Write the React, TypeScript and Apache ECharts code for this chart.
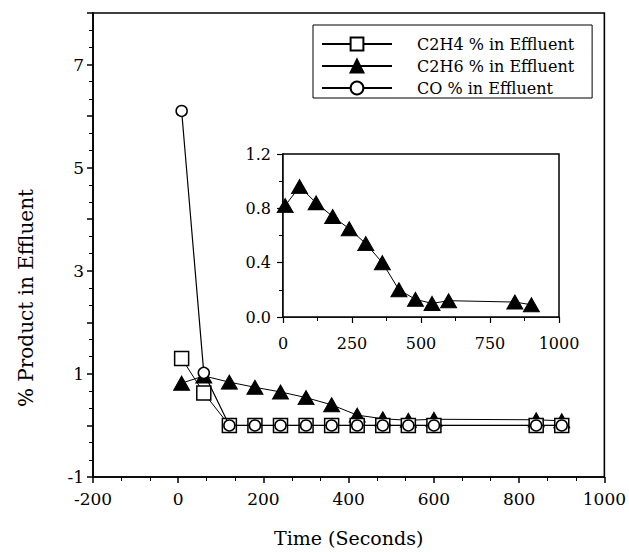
import React, { useEffect, useRef } from "react";
import * as echarts from "echarts";

const times = [8, 60, 120, 180, 240, 300, 360, 420, 480, 540, 600, 840, 900];
const c2h4 = [1.3, 0.63, 0, 0, 0, 0, 0, 0, 0, 0, 0, 0, 0];
const c2h6 = [0.82, 0.96, 0.84, 0.74, 0.65, 0.54, 0.4, 0.2, 0.13, 0.1, 0.12, 0.11, 0.09];
const co = [6.1, 1.02, 0, 0, 0, 0, 0, 0, 0, 0, 0, 0, 0];
const seriesNames = ["C2H4 % in Effluent", "C2H6 % in Effluent", "CO % in Effluent"];
const xTitle = "Time (Seconds)";
const yTitle = "% Product in Effluent";

const FONT = "DejaVu Serif";

function pairs(xs: number[], ys: number[]) {
  return xs.map((x, i) => [x, ys[i]]);
}

export default function App() {
  const ref = useRef<HTMLDivElement>(null);
  useEffect(() => {
    if (!ref.current) return;
    const chart = echarts.init(ref.current, undefined, { renderer: "svg" });
    const axisLine = { show: true, onZero: false, lineStyle: { color: "#000", width: 1.6 } };
    const label = { color: "#000", fontFamily: FONT };
    chart.setOption({
      animation: false,
      backgroundColor: "#fff",
      textStyle: { fontFamily: FONT },
      grid: [
        { left: 93, right: 20, top: 13, bottom: 74, show: true, borderColor: "#000", borderWidth: 1.6, containLabel: false },
        { left: 283, right: 70, top: 154, bottom: 235, show: true, borderColor: "#000", borderWidth: 1.5, backgroundColor: "#fff", containLabel: false, z: 5 },
      ],
      graphic: [
        {
          type: "text",
          x: 26,
          y: 298,
          rotation: Math.PI / 2,
          style: {
            text: yTitle,
            fill: "#000",
            font: `20px "${FONT}"`,
            textAlign: "center",
            textVerticalAlign: "middle",
          },
        },
      ],
      legend: {
        orient: "vertical",
        left: 313,
        top: 25,
        borderColor: "#000",
        borderWidth: 1,
        backgroundColor: "#fff",
        padding: [11, 18, 2, 8],
        itemWidth: 70,
        itemHeight: 16,
        itemGap: 6,
        textStyle: { color: "#000", fontFamily: FONT, fontSize: 16, padding: [0, 0, 0, 20] },
        data: seriesNames,
      },
      xAxis: [
        {
          gridIndex: 0,
          type: "value",
          min: -200,
          max: 1000,
          interval: 200,
          name: xTitle,
          nameLocation: "middle",
          nameGap: 51,
          nameTextStyle: { ...label, fontSize: 19 },
          axisLine,
          splitLine: { show: false },
          axisTick: { show: true, length: 6, lineStyle: { color: "#000", width: 1.5 } },
          minorTick: { show: true, splitNumber: 3, length: 4, lineStyle: { color: "#000", width: 1 } },
          axisLabel: { ...label, fontSize: 17, margin: 13, formatter: (v: number) => String(v) },
        },
        {
          gridIndex: 1,
          type: "value",
          min: 0,
          max: 1000,
          interval: 250,
          axisLine,
          splitLine: { show: false },
          axisTick: { show: true, length: 6, lineStyle: { color: "#000", width: 1.2 } },
          minorTick: { show: true, splitNumber: 2, length: 4, lineStyle: { color: "#000", width: 1 } },
          axisLabel: { ...label, fontSize: 16, margin: 18, formatter: (v: number) => String(v) },
        },
      ],
      yAxis: [
        {
          gridIndex: 0,
          type: "value",
          min: -1,
          max: 8,
          interval: 1,
          axisLine,
          splitLine: { show: false },
          axisTick: { show: true, length: 6, lineStyle: { color: "#000", width: 1.5 } },
          minorTick: { show: true, splitNumber: 3, length: 4, lineStyle: { color: "#000", width: 1 } },
          axisLabel: {
            ...label,
            fontSize: 17,
            margin: 9,
            formatter: (v: number) => {
              const r = Math.round(v);
              return Math.abs(v - r) < 1e-6 && r % 2 !== 0 && r < 8 ? String(r) : "";
            },
          },
        },
        {
          gridIndex: 1,
          type: "value",
          min: 0,
          max: 1.2,
          interval: 0.4,
          axisLine,
          splitLine: { show: false },
          axisTick: { show: true, length: 6, lineStyle: { color: "#000", width: 1.2 } },
          minorTick: { show: true, splitNumber: 2, length: 4, lineStyle: { color: "#000", width: 1 } },
          axisLabel: { ...label, fontSize: 16, margin: 12, formatter: (v: number) => v.toFixed(1) },
        },
      ],
      series: [
        {
          name: seriesNames[0],
          type: "line",
          xAxisIndex: 0,
          yAxisIndex: 0,
          data: pairs(times, c2h4),
          symbol: "rect",
          symbolSize: 14,
          z: 3,
          lineStyle: { color: "#000", width: 1 },
          itemStyle: { color: "#fff", borderColor: "#000", borderWidth: 1.5 },
        },
        {
          name: seriesNames[1],
          type: "line",
          xAxisIndex: 0,
          yAxisIndex: 0,
          data: pairs(times, c2h6),
          symbol: "triangle",
          symbolSize: [16, 14],
          z: 2,
          lineStyle: { color: "#000", width: 1 },
          itemStyle: { color: "#000", borderColor: "#000", borderWidth: 1 },
        },
        {
          name: seriesNames[2],
          type: "line",
          xAxisIndex: 0,
          yAxisIndex: 0,
          data: pairs(times, co),
          symbol: "circle",
          symbolSize: 11,
          z: 4,
          lineStyle: { color: "#000", width: 1.2 },
          itemStyle: { color: "#fff", borderColor: "#000", borderWidth: 1.5 },
        },
        {
          name: "inset",
          type: "line",
          xAxisIndex: 1,
          yAxisIndex: 1,
          data: pairs(times, c2h6),
          symbol: "triangle",
          symbolSize: [16, 14],
          z: 6,
          lineStyle: { color: "#000", width: 1 },
          itemStyle: { color: "#000", borderColor: "#000", borderWidth: 1 },
        },
      ],
    });
    return () => chart.dispose();
  }, []);
  return <div ref={ref} style={{ width: 629, height: 552, position: "absolute", left: 0, top: 0 }} />;
}
